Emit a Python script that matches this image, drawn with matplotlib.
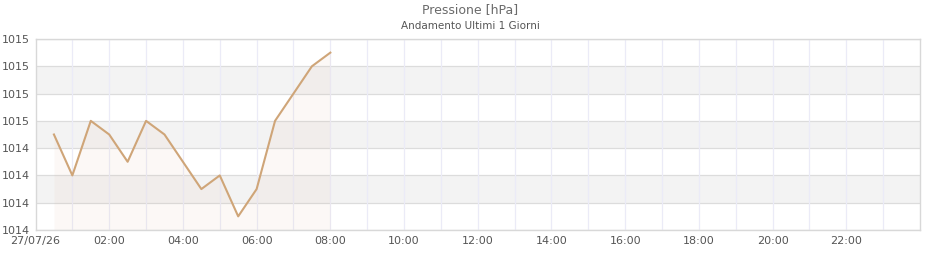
import matplotlib
matplotlib.use("Agg")
import matplotlib.pyplot as plt
import numpy as np

# pressure readings, hours since 27/07/26 00:00
HOURS = [0.5, 1.0, 1.5, 2.0, 2.5, 3.0, 3.5, 4.0, 4.5, 5.0, 5.5, 6.0, 6.5, 7.0, 7.5, 8.0]
PRESS = [1014.5, 1014.2, 1014.6, 1014.5, 1014.3, 1014.6, 1014.5, 1014.3,
         1014.1, 1014.2, 1013.9, 1014.1, 1014.6, 1014.8, 1015.0, 1015.1]
Y_TICKS = [1013.8, 1014.0, 1014.2, 1014.4, 1014.6, 1014.8, 1015.0, 1015.2]
X_TICKS = list(range(0, 24, 2))
X_LABELS = ["27/07/26"] + [f"{h:02d}:00" for h in X_TICKS[1:]]

LINE = "#cfa578"
TXT = "#555555"

fig = plt.figure(figsize=(9.4, 2.6), dpi=100)
ax = fig.add_axes([35.5 / 940, 30 / 260, (920 - 35.5) / 940, (230 - 39) / 260])

# alternating horizontal bands
for i in range(len(Y_TICKS) - 1):
    if i % 2 == 1:
        ax.axhspan(Y_TICKS[i], Y_TICKS[i + 1], color="#f3f3f3", lw=0, zorder=0)
for y in Y_TICKS:
    ax.axhline(y, color="#dcdcdc", lw=0.9, zorder=1)
for h in range(1, 24):
    ax.axvline(h, color="#ebebf7", lw=0.9, zorder=1)

ax.fill_between(HOURS, PRESS, Y_TICKS[0], color="#dba98a", alpha=0.07, lw=0, zorder=2)
ax.plot(HOURS, PRESS, color=LINE, lw=1.5, zorder=3)

ax.set_xlim(0, 24)
ax.set_ylim(Y_TICKS[0], Y_TICKS[-1])
ax.set_yticks(Y_TICKS)
ax.set_yticklabels([f"{v:.0f}" for v in Y_TICKS])
ax.set_xticks(X_TICKS)
ax.set_xticklabels(X_LABELS)
ax.tick_params(length=0, labelsize=8, labelcolor=TXT, pad=4)
for s in ax.spines.values():
    s.set_color("#d8d8d8")
    s.set_linewidth(1.0)

fig.text(0.5, 1 - 10 / 260, "Pressione [hPa]", ha="center", va="center",
         fontsize=9, color="#6a6a6a")
fig.text(0.5, 1 - 26 / 260, "Andamento Ultimi 1 Giorni", ha="center", va="center",
         fontsize=7.5, color="#555555")

fig.savefig("out.png", dpi=100)
plt.close(fig)
